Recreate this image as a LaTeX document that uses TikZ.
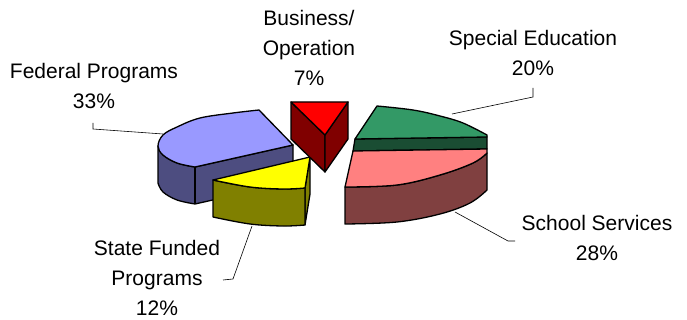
\documentclass[tikz,border=0pt]{standalone}
\usepackage{fontspec}
\setmainfont{Liberation Sans}
\definecolor{bluetop}{HTML}{9999FF}
\definecolor{blueside}{HTML}{4D4D80}
\definecolor{yeltop}{HTML}{FFFF00}
\definecolor{yelside}{HTML}{808000}
\definecolor{redtop}{HTML}{FF0000}
\definecolor{redside}{HTML}{800000}
\definecolor{greentop}{HTML}{339966}
\definecolor{greenside}{HTML}{1A4D33}
\definecolor{pinktop}{HTML}{FF8080}
\definecolor{pinkside}{HTML}{804040}
\tikzset{
  slice/.style={draw=black, line width=1.3pt, line join=round},
  lbl/.style={font=\fontsize{21}{30}\selectfont, align=center, inner sep=0pt, anchor=center},
  leader/.style={draw=black, line width=0.6pt}
}
\begin{document}
\begin{tikzpicture}[x=1pt,y=-1pt]
\useasboundingbox (0,0) rectangle (687,320);
% ---- Federal Programs (blue)
\filldraw[slice, fill=blueside] (158,146) -- plot[smooth,tension=0.6] coordinates {(158,146) (163,155) (177,163) (195,167)}
  -- (293,145) -- (293,182) -- (195,204) -- plot[smooth,tension=0.6] coordinates {(195,204) (177,200) (163,192) (158,183)} -- cycle;
\draw[slice] (195,167) -- (195,204);
\filldraw[slice, fill=bluetop] (293,145) -- (195,167) -- plot[smooth,tension=0.6] coordinates {(195,167) (177,163) (163,155) (158,146) (163,135) (177,127) (200,118) (233,113) (259,110)} -- cycle;
% ---- State Funded Programs (yellow)
\filldraw[slice, fill=yelside] (310,157) -- (305,188) -- (305,225) -- (310,194) -- cycle;
\filldraw[slice, fill=yelside] (213,180) -- plot[smooth,tension=0.6] coordinates {(213,180) (250,187) (283,189) (305,188)}
  -- (305,225) -- plot[smooth,tension=0.6] coordinates {(305,225) (283,226) (250,224) (213,217)} -- cycle;
\filldraw[slice, fill=yeltop] (310,157) -- (213,180) -- plot[smooth,tension=0.6] coordinates {(213,180) (250,187) (283,189) (305,188)} -- cycle;
% ---- Business/Operation (red)
\filldraw[slice, fill=redside] (291,102) -- (325,135) -- (325,172) -- (291,139) -- cycle;
\filldraw[slice, fill=redside] (348,102) -- (348,139) -- (325,172) -- (325,135) -- cycle;
\filldraw[slice, fill=redtop] (291,102) -- (348,102) -- (325,135) -- cycle;
% ---- Special Education (green)
\filldraw[slice, fill=greenside] (355,139) -- (487,137) -- (487,149) -- (353,151) -- cycle;
\filldraw[slice, fill=greentop] (355,139) -- (377,106) -- plot[smooth,tension=0.6] coordinates {(377,106) (413,110) (440,116) (463,123) (487,135)} -- (487,137) -- cycle;
% ---- School Services (pink)
\filldraw[slice, fill=pinkside] (487,153) -- plot[smooth,tension=0.6] coordinates {(487,153) (473,163) (440,175) (397,185) (345,187)}
  -- (345,224) -- plot[smooth,tension=0.6] coordinates {(345,224) (397,222) (440,214) (470,203) (487,190)} -- cycle;
\filldraw[slice, fill=pinktop] (353,151) -- (487,149) -- (487,153) -- plot[smooth,tension=0.6] coordinates {(487,153) (473,163) (440,175) (397,185) (345,187)} -- cycle;
% ---- labels
\node[lbl] (fed) at (94,86) {Federal Programs\\33\%};
\node[lbl] (bus) at (309,47.6) {Business/\\Operation\\7\%};
\node[lbl] (spec) at (533,52.6) {Special Education\\20\%};
\node[lbl] (state) at (157,278) {State Funded\\Programs\\12\%};
\node[lbl] (school) at (597,238) {School Services\\28\%};
% ---- leaders
\coordinate (fedA) at (93,123); \coordinate (fedB) at (93,129); \coordinate (fedC) at (163,134);
\coordinate (specA) at (533,88); \coordinate (specB) at (533,97); \coordinate (specC) at (452,114);
\coordinate (stA) at (223,280); \coordinate (stB) at (233,279); \coordinate (stC) at (252,226);
\coordinate (scA) at (515,241); \coordinate (scB) at (508,241); \coordinate (scC) at (455,212);
\draw[leader] (fedA) -- (fedB) -- (fedC);
\draw[leader] (specA) -- (specB) -- (specC);
\draw[leader] (stA) -- (stB) -- (stC);
\draw[leader] (scA) -- (scB) -- (scC);
\end{tikzpicture}
\end{document}
